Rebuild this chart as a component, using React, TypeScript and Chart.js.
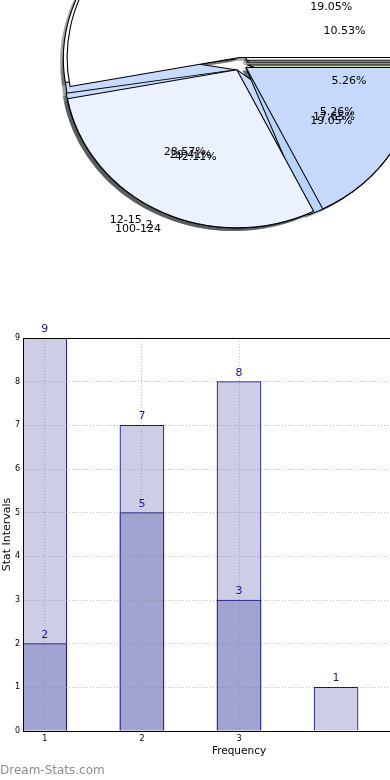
import React, { useEffect, useRef } from 'react';
import { Chart, registerables } from 'chart.js';

Chart.register(...registerables);

// ---------- Pie data (three overlaid pies) ----------
const pieALabels = ['', '', '100-124', '', ''];
const pieAValues = [1, 1, 8, 7, 2];
const pieAColors = ['#cfe47c', '#c6d9fd', '#c8dbfc', '#ffffff', '#ffffff'];

const pieBLabels = ['', '2', ''];
const pieBValues = [3, 5, 9];
const pieBColors = ['#c6d9fd', '#ebf2fe', '#ffffff'];

const pieCLabels = ['', '12-15', '', ''];
const pieCValues = [4, 6, 7, 4];
const pieCColors = ['#b6d4fc', '#c7dbfc', '#ffffff', '#ffffff'];

// ---------- Bar data ----------
const barPositions = [1, 2, 3, 4];
const xTickLabels = ['1', '2', '3'];
const totalValues = [9, 7, 8, 1];
const partValues = [2, 5, 3];

const FONT = "'DejaVu Sans', 'Liberation Sans', sans-serif";
const PIE_R = 158;
const PIE_SX = 1.09;
const PIE_EXPLODE = 6.5;

function hexToRgb(h: string) {
  const s = h.replace('#', '');
  return [parseInt(s.slice(0, 2), 16), parseInt(s.slice(2, 4), 16), parseInt(s.slice(4, 6), 16)];
}

const pieOverlayPlugin = {
  id: 'pieOverlay',
  beforeDatasetsDraw(chart: any) {
    const { ctx, chartArea } = chart;
    const cx = (chartArea.left + chartArea.right) / 2;
    const cy = (chartArea.top + chartArea.bottom) / 2;
    chart.data.datasets.forEach((_: any, di: number) => {
      const meta = chart.getDatasetMeta(di);
      meta.data.forEach((arc: any) => {
        const mid = (arc.startAngle + arc.endAngle) / 2;
        arc.x = cx + Math.cos(mid) * PIE_EXPLODE;
        arc.y = cy + Math.sin(mid) * PIE_EXPLODE;
        arc.outerRadius = PIE_R;
        arc.innerRadius = 0;
      });
    });
    ctx.save();
    ctx.translate(cx, 0);
    ctx.scale(PIE_SX, 1);
    ctx.translate(-cx, 0);
    // shadows of all wedges sit beneath all wedges
    for (let di = chart.data.datasets.length - 1; di >= 0; di--) {
      const ds = chart.data.datasets[di];
      chart.getDatasetMeta(di).data.forEach((arc: any, i: number) => {
        const [r, g, b] = hexToRgb(ds.backgroundColor[i]);
        const x = arc.x - 0.02 * PIE_R;
        const y = arc.y + 0.02 * PIE_R;
        const col = `rgba(${Math.round(r * 0.3)},${Math.round(g * 0.3)},${Math.round(b * 0.3)},0.5)`;
        ctx.beginPath();
        ctx.moveTo(x, y);
        ctx.arc(x, y, PIE_R, arc.startAngle, arc.endAngle);
        ctx.closePath();
        ctx.fillStyle = col;
        ctx.fill();
      });
    }
  },
  afterDatasetsDraw(chart: any) {
    const { ctx, chartArea } = chart;
    ctx.restore();
    const cx = (chartArea.left + chartArea.right) / 2;
    const cy = (chartArea.top + chartArea.bottom) / 2;
    ctx.save();
    ctx.font = `11px ${FONT}`;
    ctx.fillStyle = '#000';
    ctx.textBaseline = 'middle';
    for (let di = chart.data.datasets.length - 1; di >= 0; di--) {
      const ds = chart.data.datasets[di];
      const meta = chart.getDatasetMeta(di);
      const total = ds.data.reduce((a: number, b: number) => a + b, 0);
      meta.data.forEach((arc: any, i: number) => {
        const mid = (arc.startAngle + arc.endAngle) / 2;
        const ex = Math.cos(mid);
        const ey = Math.sin(mid);
        const bx = cx + ex * PIE_EXPLODE * PIE_SX;
        const by = cy + ey * PIE_EXPLODE;
        const pct = ((ds.data[i] / total) * 100).toFixed(2) + '%';
        ctx.textAlign = 'center';
        ctx.fillText(pct, bx + ex * 0.6 * PIE_R * PIE_SX, by + ey * 0.6 * PIE_R);
        const lab = ds.sliceLabels[i];
        if (lab) {
          ctx.textAlign = ex < 0 ? 'right' : 'left';
          ctx.fillText(lab, bx + ex * 1.1 * PIE_R * PIE_SX, by + ey * 1.1 * PIE_R);
        }
      });
    }
    ctx.restore();
  },
};

const barLabelPlugin = {
  id: 'barLabels',
  afterDraw(chart: any) {
    const { ctx, chartArea } = chart;
    ctx.save();
    // top frame line
    const ty = Math.round(chartArea.top - 0.5) + 0.5;
    ctx.strokeStyle = '#000';
    ctx.lineWidth = 1;
    ctx.beginPath();
    ctx.moveTo(chartArea.left, ty);
    ctx.lineTo(chartArea.right, ty);
    ctx.stroke();
    // value labels
    ctx.font = `11px ${FONT}`;
    ctx.fillStyle = '#1a1a8c';
    ctx.textAlign = 'center';
    ctx.textBaseline = 'alphabetic';
    chart.data.datasets.forEach((ds: any, di: number) => {
      const meta = chart.getDatasetMeta(di);
      meta.data.forEach((bar: any, i: number) => {
        ctx.fillText(String(ds.data[i].y), bar.x, bar.y - 6);
      });
    });
    ctx.restore();
  },
};

export default function App() {
  const pieRef = useRef<HTMLCanvasElement | null>(null);
  const barRef = useRef<HTMLCanvasElement | null>(null);

  useEffect(() => {
    document.body.style.margin = '0';
    const pie = new Chart(pieRef.current as HTMLCanvasElement, {
      type: 'pie',
      data: {
        labels: pieALabels,
        datasets: [
          { data: pieBValues, backgroundColor: pieBColors, sliceLabels: pieBLabels, borderColor: '#000', borderWidth: 1, clip: false } as any,
          { data: pieCValues, backgroundColor: pieCColors, sliceLabels: pieCLabels, borderColor: '#000', borderWidth: 1, clip: false } as any,
          { data: pieAValues, backgroundColor: pieAColors, sliceLabels: pieALabels, borderColor: '#000', borderWidth: 1, clip: false } as any,
        ],
      },
      options: {
        responsive: false,
        animation: false,
        rotation: 90,
        events: [],
        layout: { padding: 0 },
        plugins: { legend: { display: false }, tooltip: { enabled: false } },
      } as any,
      plugins: [pieOverlayPlugin],
    });

    const bar = new Chart(barRef.current as HTMLCanvasElement, {
      type: 'bar',
      data: {
        datasets: [
          {
            label: 'part',
            data: partValues.map((v, i) => ({ x: barPositions[i], y: v })),
            backgroundColor: '#a3a3d1',
            borderColor: '#000080',
            borderWidth: 1,
            barThickness: 44,
            grouped: false,
          } as any,
          {
            label: 'total',
            data: totalValues.map((v, i) => ({ x: barPositions[i], y: v })),
            backgroundColor: '#cdcde6',
            borderColor: '#000080',
            borderWidth: 1,
            barThickness: 44,
            grouped: false,
          } as any,
        ],
      },
      options: {
        responsive: false,
        animation: false,
        events: [],
        layout: { padding: { top: 38, right: 15, left: 0, bottom: 0 } },
        plugins: { legend: { display: false }, tooltip: { enabled: false } },
        scales: {
          x: {
            type: 'linear',
            min: 0.775,
            max: 5.225,
            offset: false,
            z: 1,
            afterBuildTicks: (s: any) => {
              s.ticks = xTickLabels.map((_, i) => ({ value: barPositions[i] }));
            },
            afterFit: (s: any) => {
              s.height = 49;
            },
            ticks: {
              autoSkip: false,
              maxRotation: 0,
              padding: 3,
              color: '#000',
              z: 1,
              font: { family: FONT, size: 8 },
              callback: (v: any) => {
                const idx = barPositions.indexOf(Number(v));
                return idx >= 0 && idx < xTickLabels.length ? xTickLabels[idx] : '';
              },
            },
            grid: { color: 'rgba(128,128,128,0.5)', drawTicks: false, offset: false, z: 1 },
            border: { display: true, color: '#000', width: 1, dash: [1, 2], z: 2 },
            title: {
              display: true,
              text: 'Frequency',
              color: '#000',
              font: { family: FONT, size: 10.5 },
              padding: { top: 0, bottom: 22 },
            },
          },
          y: {
            min: 0,
            max: 9,
            z: 1,
            afterFit: (s: any) => {
              s.width = 23;
            },
            ticks: {
              stepSize: 1,
              padding: 3,
              color: '#000',
              z: 1,
              font: { family: FONT, size: 8 },
            },
            grid: { color: 'rgba(128,128,128,0.5)', drawTicks: false, z: 1 },
            border: { display: true, color: '#000', width: 1, dash: [1, 2], z: 2 },
            title: {
              display: true,
              text: 'Stat Intervals',
              color: '#000',
              font: { family: FONT, size: 11 },
              padding: { top: 1, bottom: 0 },
            },
          },
        },
      } as any,
      plugins: [barLabelPlugin],
    });

    return () => {
      pie.destroy();
      bar.destroy();
    };
  }, []);

  return (
    <div style={{ position: 'fixed', left: 0, top: 0, width: 390, height: 780, overflow: 'hidden', background: '#fff' }}>
      <div style={{ position: 'absolute', left: 0, top: 0, width: 390, height: 300, overflow: 'hidden' }}>
        <canvas ref={pieRef} width={440} height={400} style={{ position: 'absolute', left: 20, top: -136 }} />
      </div>
      <canvas ref={barRef} width={470} height={480} style={{ position: 'absolute', left: 0, top: 300 }} />
      <div
        style={{
          position: 'absolute',
          left: 0,
          top: 762,
          fontFamily: FONT,
          fontSize: 12,
          lineHeight: '16px',
          color: '#8e8e8e',
          whiteSpace: 'nowrap',
        }}
      >
        Dream-Stats.com
      </div>
    </div>
  );
}
